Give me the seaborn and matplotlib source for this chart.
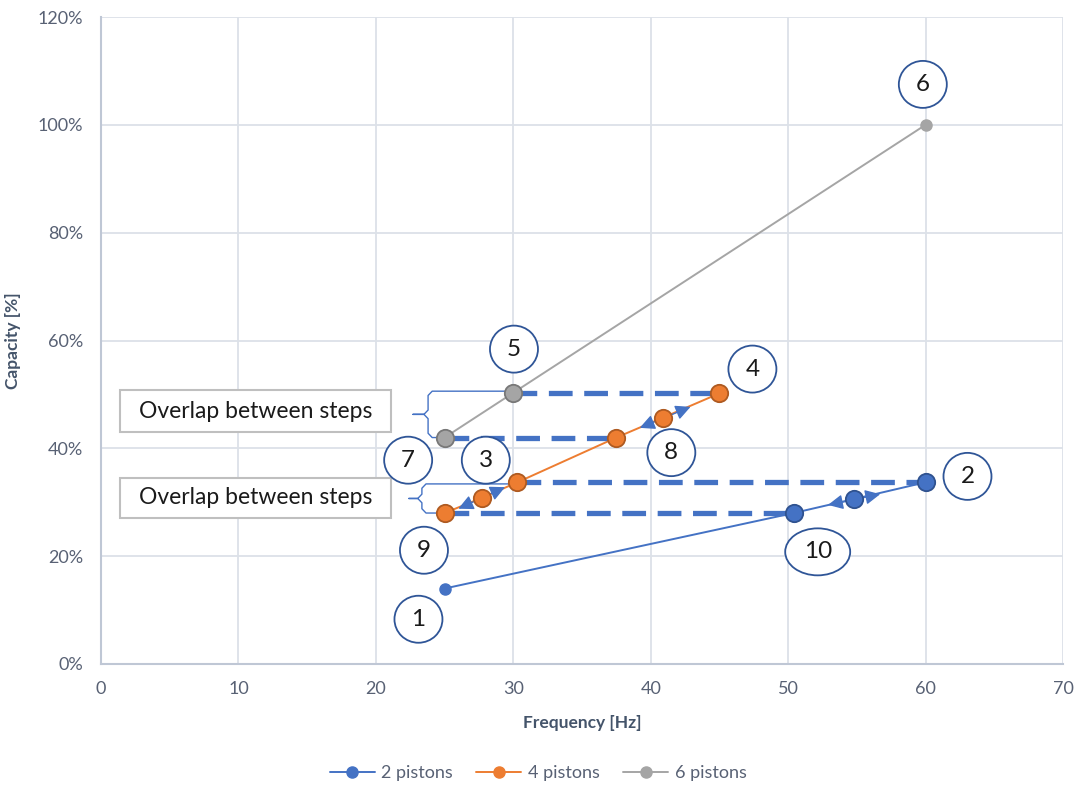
import matplotlib
matplotlib.use("Agg")
import matplotlib.pyplot as plt
from matplotlib.patches import Ellipse, Rectangle
from matplotlib.lines import Line2D
from matplotlib.ticker import PercentFormatter
import seaborn as sns
import pandas as pd

# Operating points per compressor stage: frequency [Hz] and capacity [%]
freq_2p = [25, 50.4, 54.8, 60]
cap_2p = [14, 28, 30.6, 33.7]
freq_4p = [25, 27.7, 30.3, 37.5, 40.9, 45]
cap_4p = [28, 30.8, 33.7, 42, 45.7, 50.2]
freq_6p = [25, 30, 60]
cap_6p = [42, 50.3, 100]

series_names = ["2 pistons", "4 pistons", "6 pistons"]
series_colors = ["#4472C4", "#ED7D31", "#A5A5A5"]
edge_colors = ["#2F528F", "#AE5A21", "#787878"]

# Numbered step callouts: centre frequency, centre capacity, label
step_labels = ["1", "2", "3", "4", "5", "6", "7", "8", "9", "10"]
step_freq = [23.1, 63.05, 28.0, 47.4, 30.05, 59.8, 22.35, 41.5, 23.5, 52.15]
step_cap = [8.3, 34.8, 37.8, 54.7, 58.4, 107.5, 37.8, 39.2, 21.1, 20.8]

# Direction arrows along the curves (pairs of arrow-head positions)
arrow_freq = [(26.0, 29.4), (39.2, 42.9), (52.9, 56.7)]
arrow_cap = [(28.8, 32.8), (43.8, 47.7), (29.5, 31.5)]

box_text = "Overlap between steps"

x_ticks = [0, 10, 20, 30, 40, 50, 60, 70]
y_ticks = [0, 20, 40, 60, 80, 100, 120]

sns.set_theme(style="white")
plt.rcParams["font.family"] = ["Lato", "DejaVu Sans"]

fig = plt.figure(figsize=(10.76, 7.85), dpi=100)
ax = fig.add_axes([101 / 1076, 1 - 664 / 785, 962 / 1076, 647 / 785])

tick_col = "#586174"
grid_col = "#DCE1E8"

df = pd.concat([
    pd.DataFrame({"freq": freq_2p, "cap": cap_2p, "series": series_names[0]}),
    pd.DataFrame({"freq": freq_4p, "cap": cap_4p, "series": series_names[1]}),
    pd.DataFrame({"freq": freq_6p, "cap": cap_6p, "series": series_names[2]}),
], ignore_index=True)

palette = dict(zip(series_names, series_colors))
sns.lineplot(data=df, x="freq", y="cap", hue="series", palette=palette,
             estimator=None, sort=False, linewidth=1.4, legend=False,
             ax=ax, zorder=3)

# Small plain markers for the end points, larger outlined ones for the switching points
small = [(freq_2p[0], cap_2p[0], 0), (freq_6p[2], cap_6p[2], 2)]
for fx, cy, i in small:
    ax.plot(fx, cy, "o", ms=8, color=series_colors[i], mec=series_colors[i], zorder=6)

big_sets = [
    (freq_2p[1:], cap_2p[1:], 0),
    (freq_4p, cap_4p, 1),
    (freq_6p[:2], cap_6p[:2], 2),
]
for fx, cy, i in big_sets:
    ax.plot(fx, cy, "o", ls="none", ms=12.5, color=series_colors[i],
            mec=edge_colors[i], mew=1.3, zorder=6)

# Step transitions (thick dashed horizontals)
dash_kw = dict(color="#4472C4", lw=3.8, ls=(0, (4.5, 2.2)), zorder=4,
               solid_capstyle="butt", dash_capstyle="butt")
ax.plot([freq_6p[1], freq_4p[5]], [cap_6p[1], cap_6p[1]], **dash_kw)
ax.plot([freq_6p[0], freq_4p[3]], [cap_6p[0], cap_6p[0]], **dash_kw)
ax.plot([freq_4p[2], freq_2p[3]], [cap_4p[2], cap_4p[2]], **dash_kw)
ax.plot([freq_4p[0], freq_2p[1]], [cap_4p[0], cap_4p[0]], **dash_kw)

# Direction arrows
for (x0, x1), (y0, y1) in zip(arrow_freq, arrow_cap):
    ax.annotate("", xy=(x1, y1), xytext=(x0, y0),
                arrowprops=dict(arrowstyle="<|-|>,head_length=0.65,head_width=0.32",
                                color="#4472C4", lw=1.0, shrinkA=0, shrinkB=0,
                                mutation_scale=14),
                zorder=5)

# Braces marking the overlap between steps
def brace(x_line, x_tip, top_pt, bot_pt):
    ym = (top_pt[1] + bot_pt[1]) / 2
    d = 0.8
    xs = [top_pt[0], x_line + 0.3, x_line, x_line, x_line - 0.3, x_tip,
          x_line - 0.3, x_line, x_line, x_line + 0.3, bot_pt[0]]
    ys = [top_pt[1], top_pt[1], top_pt[1] - d, ym + d, ym, ym,
          ym, ym - d, bot_pt[1] + d, bot_pt[1], bot_pt[1]]
    ax.plot(xs, ys, color="#4472C4", lw=1.0, zorder=4)

brace(23.8, 22.7, (freq_6p[1], cap_6p[1] + 0.3), (freq_6p[0], cap_6p[0]))
brace(23.35, 22.4, (freq_4p[2], cap_4p[2] - 0.3), (freq_4p[0], cap_4p[0]))

# Text boxes
for y_lo, y_hi in [(43.0, 50.8), (27.1, 34.5)]:
    ax.add_patch(Rectangle((1.38, y_lo), 19.72, y_hi - y_lo, facecolor="white",
                           edgecolor="#BFBFBF", lw=1.5, zorder=7))
    ax.text(11.24, (y_lo + y_hi) / 2, box_text, ha="center", va="center",
            fontsize=16.5, color="#1A1A1A", zorder=8)

# Numbered circles
px_x = 962 / 70
px_y = 647 / 120
for lab, fx, cy in zip(step_labels, step_freq, step_cap):
    w_px = 65 if len(lab) > 1 else 48
    ax.add_patch(Ellipse((fx, cy), w_px / px_x, 47 / px_y, facecolor="white",
                         edgecolor="#2F5597", lw=1.3, zorder=7))
    ax.text(fx, cy, lab, ha="center", va="center", fontsize=17.5,
            color="#1A1A1A", zorder=8)

ax.set_xlim(0, 70)
ax.set_ylim(0, 120)
ax.set_xticks(x_ticks)
ax.set_yticks(y_ticks)
ax.yaxis.set_major_formatter(PercentFormatter(decimals=0))
ax.grid(True, color=grid_col, lw=1.3)
ax.set_axisbelow(True)
for side in ["top", "right"]:
    ax.spines[side].set_visible(False)
for side in ["left", "bottom"]:
    ax.spines[side].set_color("#BFC7D5")
    ax.spines[side].set_linewidth(1.5)
ax.tick_params(axis="both", length=0, labelsize=13, colors=tick_col)
ax.tick_params(axis="y", pad=13)
ax.tick_params(axis="x", pad=12)
ax.set_xlabel("Frequency [Hz]", fontsize=12.5, fontweight="bold",
              color="#44546A", labelpad=13)
ax.set_ylabel("Capacity [%]", fontsize=12.5, fontweight="bold",
              color="#44546A", labelpad=12)

handles = [Line2D([0], [0], color=c, lw=1.4, marker="o", ms=8) for c in series_colors]
leg = fig.legend(handles, series_names, loc="center", bbox_to_anchor=(0.5, 1 - 773 / 785),
                 ncol=3, frameon=False, fontsize=13, handlelength=2.5,
                 columnspacing=1.3, handletextpad=0.35)
for t in leg.get_texts():
    t.set_color(tick_col)

fig.savefig("out.png", dpi=100)
